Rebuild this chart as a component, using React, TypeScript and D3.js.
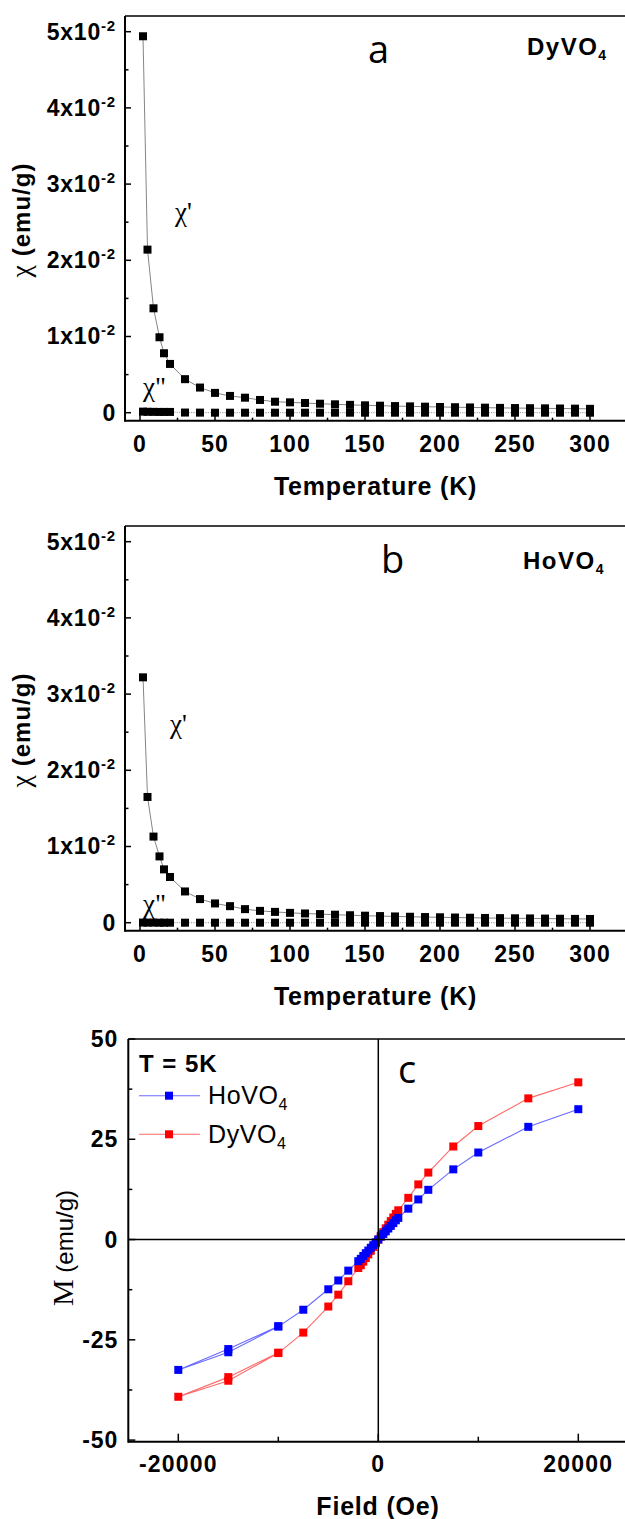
import React from 'react';
import * as d3 from 'd3';

// ---------- DATA ----------
const temps = [2, 5, 9, 13, 16, 20, 30, 40, 50, 60, 70, 80, 90, 100, 110, 120, 130, 140, 150, 160, 170, 180, 190, 200, 210, 220, 230, 240, 250, 260, 270, 280, 290, 300];

const dyChiReal = [0.0494, 0.0214, 0.0137, 0.0099, 0.0078, 0.0064, 0.0044, 0.0033, 0.0026, 0.0022, 0.00197, 0.00167, 0.00144, 0.00136, 0.00127, 0.00118, 0.0011, 0.00103, 0.00097, 0.00092, 0.00087, 0.00083, 0.00079, 0.00075, 0.00072, 0.00069, 0.00066, 0.00063, 0.00061, 0.00059, 0.00057, 0.00055, 0.00053, 0.00051];
const dyChiImag = [0.00014, 0.00012, 0.00011, 0.0001, 0.0001, 0.0001, 0.00002, 0.00001, 0, 0, 0, 0, 0, 0, 0, 0, 0, 0, 0, 0, 0, 0, 0, 0, 0, 0, 0, 0, 0, 0, 0, 0, 0, 0];

const hoChiReal = [0.0322, 0.0165, 0.0113, 0.0087, 0.007, 0.006, 0.0041, 0.0031, 0.00253, 0.00217, 0.00178, 0.00155, 0.00142, 0.00129, 0.00121, 0.00113, 0.00105, 0.00098, 0.00092, 0.00087, 0.00082, 0.00078, 0.00074, 0.00071, 0.00068, 0.00065, 0.00062, 0.0006, 0.00058, 0.00056, 0.00054, 0.00052, 0.0005, 0.00049];
const hoChiImag = [0.00002, 0.00001, 0.00001, 0, 0, 0, 0, 0, 0, 0, 0, 0, 0, 0, 0, 0, 0, 0, 0, 0, 0, 0, 0, 0, 0, 0, 0, 0, 0, 0, 0, 0, 0, 0];

const tempTicks = [0, 50, 100, 150, 200, 250, 300];
const tempMinorTicks = [25, 75, 125, 175, 225, 275];
const chiTicks = [0, 0.01, 0.02, 0.03, 0.04, 0.05];
const chiTickMantissa = ['0', '1', '2', '3', '4', '5'];
const chiMinorTicks = [0.005, 0.015, 0.025, 0.035, 0.045];

const fieldSweep = [20000, 15000, 10000, 7500, 5000, 4000, 3000, 2000, 1750, 1500, 1250, 1000, 750, 500, 250, 0, -250, -500, -750, -1000, -1250, -1500, -1750, -2000, -3000, -4000, -5000, -7500, -10000, -15000, -20000, -15000, -10000];
const hoM = [32.5, 28.1, 21.7, 17.5, 12.4, 10.0, 7.7, 5.4, 4.8, 4.1, 3.4, 2.75, 2.05, 1.4, 0.7, 0, -0.7, -1.4, -2.05, -2.75, -3.4, -4.1, -4.8, -5.4, -7.75, -10.2, -12.4, -17.5, -21.7, -28.1, -32.5, -27.3, -21.6];
const dyM = [39.2, 35.2, 28.3, 23.2, 16.7, 13.75, 10.4, 7.3, 6.4, 5.5, 4.6, 3.7, 2.8, 1.85, 0.95, 0, -0.95, -1.85, -2.8, -3.7, -4.6, -5.5, -6.4, -7.1, -10.4, -13.75, -16.7, -23.2, -28.3, -35.2, -39.2, -34.3, -28.2];

const fieldTicks = [-20000, 0, 20000];
const fieldMinorTicks = [-10000, 10000];
const mTicks = [-50, -25, 0, 25, 50];
const mMinorTicks = [-37.5, -12.5, 12.5, 37.5];

// ---------- STYLE ----------
const SANS = "Arial, 'Liberation Sans', Helvetica, sans-serif";
const SERIF = "'Times New Roman', 'Liberation Serif', 'DejaVu Serif', serif";
const LETTER = "'Open Sans', sans-serif";

type ChiProps = {
  oy: number;
  real: number[];
  imag: number[];
  letter: string;
  compound: string;
  compoundX: number;
  compoundY: number;
  letterX: number;
  letterY: number;
  chi1: [number, number];
  chi2: [number, number];
};

function ChiPanel(p: ChiProps) {
  const left = 125, right = 625, top = 16 + p.oy, bottom = 420.7 + p.oy;
  const x = d3.scaleLinear().domain([-10, 323.33]).range([left, right]);
  const y = d3.scaleLinear().domain([-0.00105, 0.05206]).range([bottom, top]);
  const line = d3.line<number>().x((_, i) => x(temps[i])).y((d) => y(d));
  const ms = 8;
  return (
    <g>
      <path d={line(p.imag) || ''} fill="none" stroke="#777" strokeWidth={0.8} strokeDasharray="1.2,1.2" />
      <path d={line(p.real) || ''} fill="none" stroke="#666" strokeWidth={0.8} />
      {p.imag.map((v, i) => (
        <rect key={'i' + i} x={x(temps[i]) - ms / 2} y={y(v) - ms / 2} width={ms} height={ms} fill="#000" />
      ))}
      {p.real.map((v, i) => (
        <rect key={'r' + i} x={x(temps[i]) - ms / 2} y={y(v) - ms / 2} width={ms} height={ms} fill="#000" />
      ))}
      {/* frame */}
      <line x1={left} x2={right} y1={top} y2={top} stroke="#000" strokeWidth={1.5} />
      <line x1={left} x2={right} y1={bottom} y2={bottom} stroke="#000" strokeWidth={2} />
      <line x1={left} x2={left} y1={top} y2={bottom + 1} stroke="#000" strokeWidth={2} />
      {/* x ticks */}
      {tempTicks.map((t) => (
        <g key={'xt' + t}>
          <line x1={x(t)} x2={x(t)} y1={bottom} y2={bottom - 6} stroke="#000" strokeWidth={1.5} />
          <text x={x(t)} y={451.7 + p.oy} textAnchor="middle" fontFamily={SANS} fontWeight="bold" fontSize={23} letterSpacing={1}>{t}</text>
        </g>
      ))}
      {tempMinorTicks.map((t) => (
        <line key={'xm' + t} x1={x(t)} x2={x(t)} y1={bottom} y2={bottom - 3} stroke="#000" strokeWidth={1.5} />
      ))}
      {/* y ticks */}
      {chiTicks.map((v, i) => (
        <g key={'yt' + v}>
          <line x1={left} x2={left + 6} y1={y(v)} y2={y(v)} stroke="#000" strokeWidth={1.5} />
          <text x={116} y={y(v) + 8} textAnchor="end" fontFamily={SANS} fontWeight="bold" fontSize={23} letterSpacing={0.8}>
            {i === 0 ? '0' : chiTickMantissa[i] + 'x10'}
            {i === 0 ? null : <tspan dy={-9} fontSize={15}>-2</tspan>}
          </text>
        </g>
      ))}
      {chiMinorTicks.map((v) => (
        <line key={'ym' + v} x1={left} x2={left + 3.5} y1={y(v)} y2={y(v)} stroke="#000" strokeWidth={1.5} />
      ))}
      {/* axis titles */}
      <text x={375.5} y={495 + p.oy} textAnchor="middle" fontFamily={SANS} fontWeight="bold" fontSize={25} letterSpacing={0.8}>Temperature (K)</text>
      <text transform={`translate(30,${220 + p.oy}) rotate(-90)`} textAnchor="middle" fontFamily={SANS} fontWeight="bold" fontSize={24} letterSpacing={1}>
        <tspan fontFamily={SERIF} fontWeight="normal" fontSize={28}>χ</tspan> (emu/g)
      </text>
      {/* annotations */}
      <text x={p.letterX} y={p.letterY} fontFamily={LETTER} fontSize={38}>{p.letter}</text>
      <text x={p.compoundX} y={p.compoundY} fontFamily={SANS} fontWeight="bold" fontSize={24} letterSpacing={1.5}>
        {p.compound}<tspan dy={5} fontSize={14}>4</tspan>
      </text>
      <text x={p.chi1[0]} y={p.chi1[1]} fontFamily={SERIF} fontSize={27}>χ'</text>
      <text x={p.chi2[0]} y={p.chi2[1]} fontFamily={SERIF} fontSize={27}>χ"</text>
    </g>
  );
}

function MPanel() {
  const left = 128.3, right = 628.3, top = 1039, bottom = 1441.7;
  const x = d3.scaleLinear().domain([-25000, 25000]).range([left, right]);
  const y = d3.scaleLinear().domain([-50.4, 50]).range([bottom, top]);
  const line = d3.line<number>().x((_, i) => x(fieldSweep[i])).y((d) => y(d));
  const ms = 8;
  const series = [
    { vals: dyM, color: '#ff0000', lineColor: '#ff6a6a' },
    { vals: hoM, color: '#0000ff', lineColor: '#6a6aff' },
  ];
  return (
    <g>
      {series.map((s, k) => (
        <g key={'s' + k}>
          <path d={line(s.vals) || ''} fill="none" stroke={s.lineColor} strokeWidth={1.1} />
          {s.vals.map((v, i) => (
            <rect key={i} x={x(fieldSweep[i]) - ms / 2} y={y(v) - ms / 2} width={ms} height={ms} fill={s.color} />
          ))}
        </g>
      ))}
      {/* zero lines */}
      <line x1={left} x2={right} y1={y(0)} y2={y(0)} stroke="#000" strokeWidth={1.5} />
      <line x1={x(0)} x2={x(0)} y1={top} y2={bottom} stroke="#000" strokeWidth={1.5} />
      {/* frame */}
      <line x1={left} x2={right} y1={top} y2={top} stroke="#000" strokeWidth={1.5} />
      <line x1={left} x2={right} y1={bottom} y2={bottom} stroke="#000" strokeWidth={2} />
      <line x1={left} x2={left} y1={top} y2={bottom + 1} stroke="#000" strokeWidth={2} />
      {fieldTicks.map((t) => (
        <g key={'fx' + t}>
          <line x1={x(t)} x2={x(t)} y1={bottom} y2={bottom - 8} stroke="#000" strokeWidth={1.5} />
          <text x={x(t)} y={1471.7} textAnchor="middle" fontFamily={SANS} fontWeight="bold" fontSize={23} letterSpacing={1.2}>{t}</text>
        </g>
      ))}
      {fieldMinorTicks.map((t) => (
        <line key={'fm' + t} x1={x(t)} x2={x(t)} y1={bottom} y2={bottom - 5} stroke="#000" strokeWidth={1.5} />
      ))}
      {mTicks.map((v) => (
        <g key={'my' + v}>
          <line x1={left} x2={left + 7} y1={y(v)} y2={y(v)} stroke="#000" strokeWidth={1.5} />
          <text x={118} y={y(v) + 8} textAnchor="end" fontFamily={SANS} fontWeight="bold" fontSize={23} letterSpacing={0.8}>{v}</text>
        </g>
      ))}
      {mMinorTicks.map((v) => (
        <line key={'mm' + v} x1={left} x2={left + 4} y1={y(v)} y2={y(v)} stroke="#000" strokeWidth={1.5} />
      ))}
      {/* titles */}
      <text x={378} y={1515} textAnchor="middle" fontFamily={SANS} fontWeight="bold" fontSize={25} letterSpacing={0.8}>Field (Oe)</text>
      <text transform={`translate(73,1248) rotate(-90)`} textAnchor="middle" fontFamily={SANS} fontSize={24}>
        <tspan fontFamily={SERIF} fontSize={30}>M</tspan> (emu/g)
      </text>
      <text x={398} y={1083} fontFamily={LETTER} fontSize={38}>c</text>
      {/* legend */}
      <text x={139} y={1071.7} fontFamily={SANS} fontWeight="bold" fontSize={24} letterSpacing={1}>T = 5K</text>
      <line x1={139} x2={200} y1={1095.7} y2={1095.7} stroke="#6a6aff" strokeWidth={1.1} />
      <rect x={169 - ms / 2} y={1095.7 - ms / 2} width={ms} height={ms} fill="#0000ff" />
      <text x={208} y={1104} fontFamily={SANS} fontSize={25} letterSpacing={0.6}>HoVO<tspan dy={6} fontSize={16}>4</tspan></text>
      <line x1={139} x2={200} y1={1134.3} y2={1134.3} stroke="#ff6a6a" strokeWidth={1.1} />
      <rect x={169 - ms / 2} y={1134.3 - ms / 2} width={ms} height={ms} fill="#ff0000" />
      <text x={208} y={1143} fontFamily={SANS} fontSize={25} letterSpacing={0.6}>DyVO<tspan dy={6} fontSize={16}>4</tspan></text>
    </g>
  );
}

export default function App() {
  return (
    <svg width={625} height={1519} viewBox="0 0 625 1519" style={{ position: 'absolute', left: 0, top: 0, background: '#fff' }}>
      <rect x={0} y={0} width={625} height={1519} fill="#fff" />
      <ChiPanel oy={0} real={dyChiReal} imag={dyChiImag} letter="a" compound="DyVO" compoundX={527} compoundY={55}
        letterX={368} letterY={63} chi1={[175, 221]} chi2={[143, 396]} />
      <ChiPanel oy={510} real={hoChiReal} imag={hoChiImag} letter="b" compound="HoVO" compoundX={523} compoundY={569}
        letterX={381} letterY={573} chi1={[170, 733]} chi2={[143, 913]} />
      <MPanel />
    </svg>
  );
}
